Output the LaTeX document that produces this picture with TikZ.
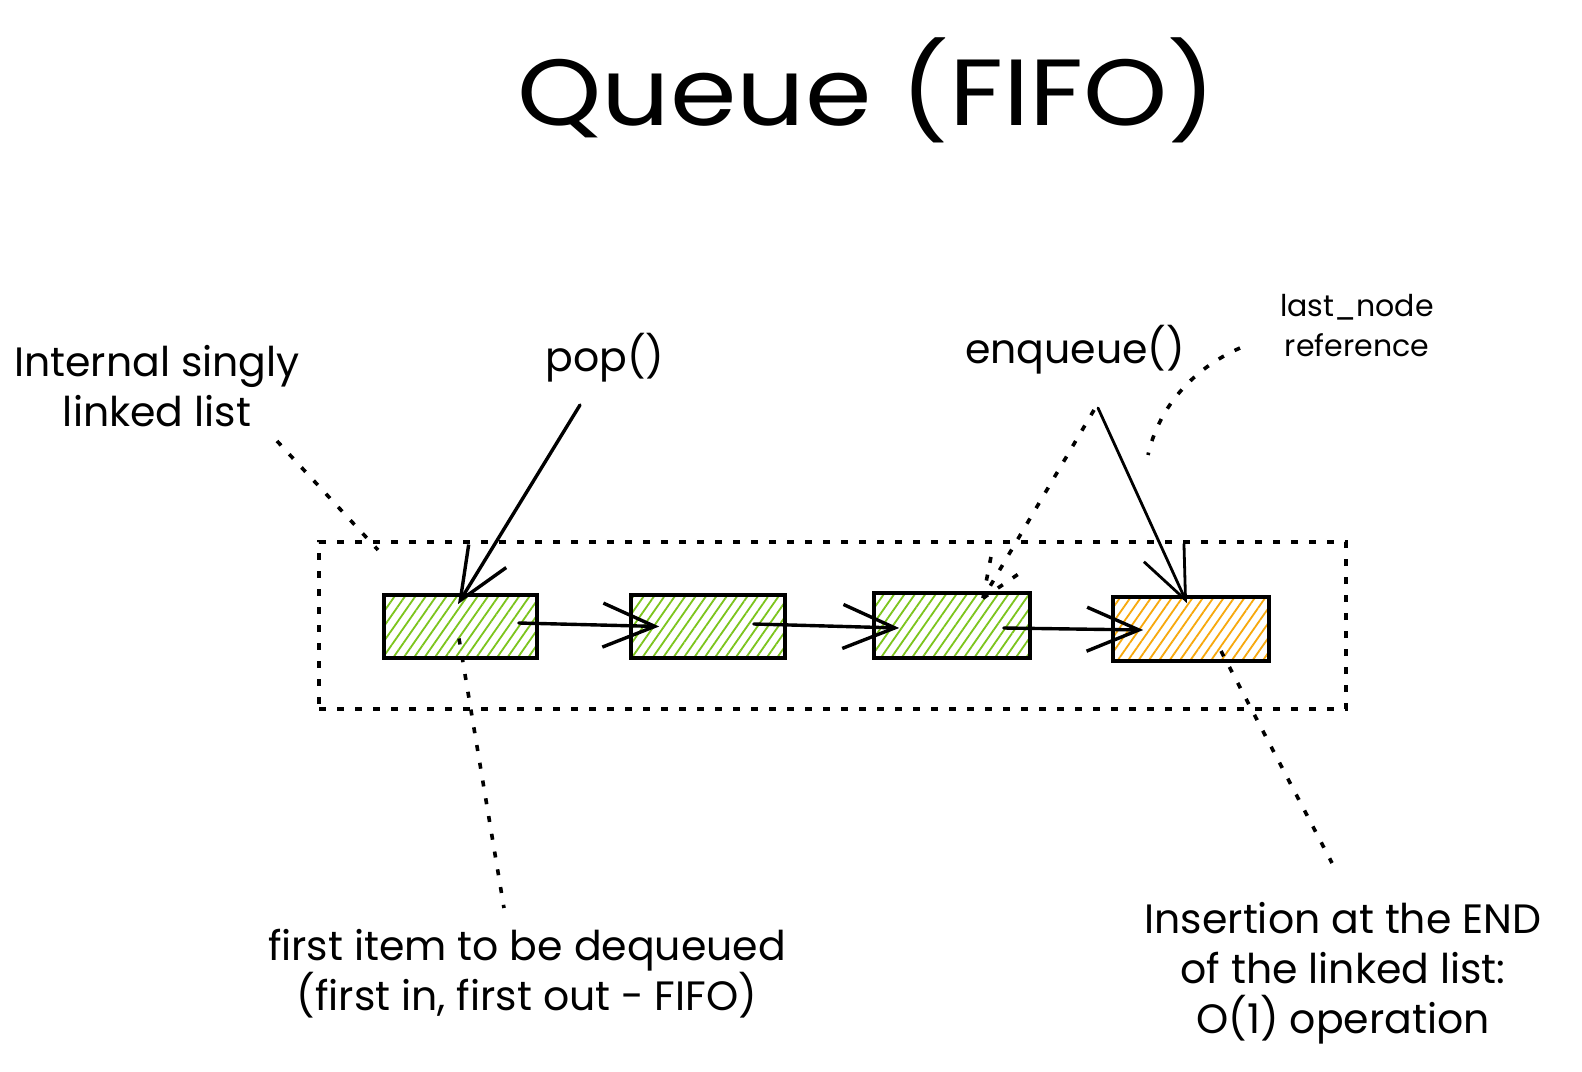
\documentclass[tikz,border=0pt]{standalone}
\usepackage{fontspec}
\setmainfont{Poppins}
\usetikzlibrary{arrows.meta,patterns.meta}
\definecolor{hg}{HTML}{7CC41C}
\definecolor{ho}{HTML}{F7A80C}
\tikzset{
  lbl/.style={font=\fontsize{41}{50}\selectfont, align=center, inner sep=0pt},
  small/.style={font=\fontsize{30}{40}\selectfont, align=center, inner sep=0pt},
  title/.style={font=\fontsize{94}{110}\selectfont, inner sep=0pt},
  cell/.style={draw=black, line width=3.6pt, inner sep=0pt},
  cellg/.style={cell, pattern={Lines[angle=55,distance=8.5pt,line width=1.8pt]}, pattern color=hg},
  cello/.style={cell, pattern={Lines[angle=55,distance=8.5pt,line width=1.8pt]}, pattern color=ho},
  grp/.style={draw=black, line width=3.6pt, dash pattern=on 7pt off 11pt, inner sep=0pt},
  dots/.style={line width=3.6pt, dash pattern=on 6pt off 12pt},
  barb/.tip={Straight Barb[length=52pt,width=44pt]},
  arr/.style={line width=3.4pt, -barb, line cap=round, line join=round},
}
\begin{document}
\begin{tikzpicture}[x=1pt,y=-1pt]
\useasboundingbox (0,0) rectangle (1582,1071);
\fill[white] (0,0) rectangle (1582,1071);

% title
\node[title] (ttl) at (867,90) {\scalebox{1.14}[1]{Queue (FIFO)}};

% group box
\node[grp, minimum width=1027pt, minimum height=167pt] (list) at (832.5,625.5) {};

% cells
\node[cellg, minimum width=153pt, minimum height=63pt] (b1) at (460.5,626.5) {};
\node[cellg, minimum width=154pt, minimum height=63pt] (b2) at (708,626.5) {};
\node[cellg, minimum width=156pt, minimum height=65pt] (b3) at (952,625.5) {};
\node[cello, minimum width=156pt, minimum height=64pt] (b4) at (1191,629) {};

% labels
\node[lbl] (lin) at (157,386) {Internal singly\\linked list};
\node[lbl] (pop) at (605,358) {pop()};
\node[lbl] (enq) at (1075,350) {enqueue()};
\node[small] (last) at (1357,326) {last\_node\\reference};
\node[lbl] (first) at (527,974) {first item to be dequeued\\(first in, first out - FIFO)};
\node[lbl] (ins) at (1343,973) {Insertion at the END\\of the linked list:\\O(1) operation};

% links between cells
\draw[arr] ([xshift=-19pt,yshift=3.5pt]b1.east) -- ([xshift=30pt]b2.west);
\draw[arr] ([xshift=-33pt,yshift=2.5pt]b2.east) -- ([xshift=27pt,yshift=-2.5pt]b3.west);
\draw[arr] ([xshift=-28pt,yshift=-2.5pt]b3.east) -- ([xshift=32pt,yshift=-1pt]b4.west);

% free ends
\coordinate (popS) at (580,405);
\coordinate (enqS) at (1098,408);
\coordinate (enqD) at (1094,410);
\coordinate (linS) at (277,441);
\coordinate (linE) at (378,550);
\coordinate (firstN) at (504,908);
\coordinate (insN) at (1332,863);
\coordinate (lastS) at (1240,348);
\coordinate (lastE) at (1148,455);

% pop arrow
\draw[arr] (popS) -- ([xshift=-2.5pt,yshift=-10pt]b1.north);
% enqueue arrow
\draw[arr, line width=2.8pt] (enqS) -- ([xshift=-4pt,yshift=-8pt]b4.north);
% enqueue dotted arrow (to previous last node)
\coordinate (enqT) at ([xshift=31pt,yshift=-7pt]b3.north);
\draw[dots] (enqD) -- (enqT);
\draw[dots] (enqT) -- +(10,-52);
\draw[dots] (enqT) -- +(44,-30);

% dotted annotations
\draw[dots] (linS) -- (linE);
\draw[dots] ([xshift=-1.5pt,yshift=-12pt]b1.center) -- (firstN);
\draw[dots] ([xshift=30pt,yshift=-22pt]b4.center) -- (insN);
\draw[dots] (lastS) .. controls (1190,370) and (1158,410) .. (lastE);
\end{tikzpicture}
\end{document}
